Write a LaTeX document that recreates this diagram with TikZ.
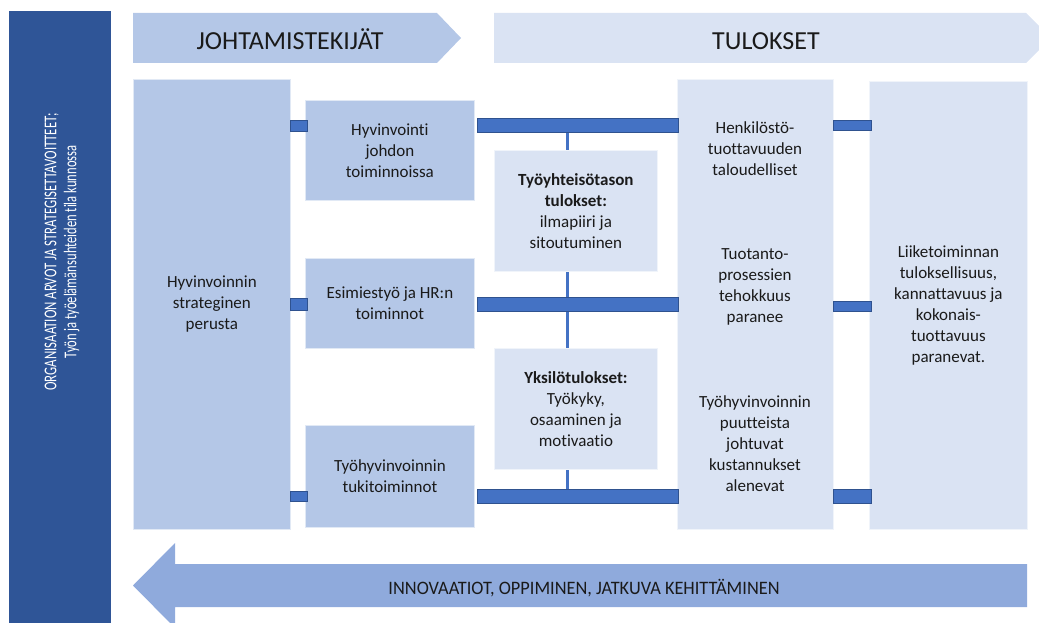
\documentclass[tikz,border=0pt]{standalone}
\usepackage{fontspec}
\setmainfont{Carlito}[Ligatures=NoCommon]
\usetikzlibrary{calc}
\definecolor{navy}{HTML}{2F5597}
\definecolor{lblue}{HTML}{B4C7E7}
\definecolor{pblue}{HTML}{DAE3F3}
\definecolor{mblue}{HTML}{8FAADC}
\definecolor{barfill}{HTML}{4472C4}
\definecolor{barline}{HTML}{2F528F}
\definecolor{ink}{HTML}{1A1A1A}

\begin{document}
\begin{tikzpicture}[x=1pt,y=-1pt,
  txt/.style={font=\fontsize{17}{21}\selectfont, align=center, inner sep=0pt, text=ink},
  factor/.style={fill=lblue, draw=white!60!lblue, line width=0.8pt, anchor=north west, inner sep=0pt, txt},
  result/.style={fill=pblue, draw=white!60!pblue, line width=0.8pt, anchor=north west, inner sep=0pt, txt},
  bar/.style={fill=barfill, draw=barline, line width=0.9pt},
  vline/.style={draw=barfill, line width=3pt},
  head/.style={font=\fontsize{26}{30}\selectfont, text=ink, inner sep=0pt, anchor=base}]
\useasboundingbox (0,0) rectangle (1039,623);
\clip (0,0) rectangle (1039,623);

% side banner
\fill[navy] (9,11) rectangle (111,640);
\node[rotate=90, align=center, text=white, inner sep=0pt,
  font=\fontsize{18}{20}\selectfont] (values) at (62,252)
  {\resizebox{277pt}{\height}{ORGANISAATION ARVOT JA STRATEGISETTAVOITTEET;}\\
   \resizebox{213pt}{\height}{Työn ja työelämänsuhteiden tila kunnossa}};

% header arrows
\fill[lblue] (133,13) -- (437,13) -- (461,38) -- (437,63) -- (133,63) -- cycle;
\node[head] (hleft) at (290,50) {JOHTAMISTEKIJÄT};
\fill[pblue] (494,13) -- (1026,13) -- (1051,38) -- (1026,63) -- (494,63) -- cycle;
\node[head] (hright) at (766,50) {TULOKSET};

% row levels of the connectors
\coordinate (r1) at (0,125.5);
\coordinate (r2) at (0,304);
\coordinate (r3) at (0,496);
\coordinate (vx) at (567,0);

% vertical link behind the middle boxes
\draw[vline] (vx |- r1) -- (vx |- r3);

% management factors
\node[factor, minimum width=157pt, minimum height=450pt] (base) at (133,79)
  {Hyvinvoinnin\\strateginen\\perusta};
\node[factor, minimum width=169pt, minimum height=100pt] (hj) at (305,100)
  {Hyvinvointi\\johdon\\toiminnoissa};
\node[factor, minimum width=169pt, minimum height=90pt] (hr) at (305,258)
  {Esimiestyö ja HR:n\\toiminnot};
\node[factor, minimum width=169pt, minimum height=102pt] (tuki) at (305,425)
  {Työhyvinvoinnin\\tukitoiminnot};

% intermediate results
\node[result, minimum width=163pt, minimum height=121pt] (yht) at (494,150)
  {\textbf{Työyhteisötason}\\\textbf{tulokset:}\\ilmapiiri ja\\sitoutuminen};
\node[result, minimum width=163pt, minimum height=121pt] (yks) at (494,348)
  {\textbf{Yksilötulokset:}\\Työkyky,\\osaaminen ja\\motivaatio};

% results column
\node[result, minimum width=156pt, minimum height=450pt] (res) at (677,79) {};
\node[txt] (res1) at (755,149) {Henkilöstö-\\tuottavuuden\\taloudelliset};
\node[txt] (res2) at (755,287) {Tuotanto-\\prosessien\\tehokkuus\\paranee};
\node[txt] (res3) at (755,444) {Työhyvinvoinnin\\puutteista\\johtuvat\\kustannukset\\alenevat};

% business outcome
\node[result, minimum width=158pt, minimum height=448pt] (fin) at (869,81)
  {Liiketoiminnan\\tuloksellisuus,\\kannattavuus ja\\kokonais-\\tuottavuus\\paranevat.};

% connectors: strategy -> factors
\draw[bar] ($(base.east |- r1)+(0,-5.5)$) rectangle ($(hj.west |- r1)+(2,5.5)$);
\draw[bar] ($(base.east |- r2)+(0,-6)$) rectangle ($(hr.west |- r2)+(2,6)$);
\draw[bar] ($(base.east |- r3)+(0,-5)$) rectangle ($(tuki.west |- r3)+(2,5)$);

% connectors: factors -> results
\draw[bar] ($(hj.east |- r1)+(2.5,-7)$) rectangle ($(res.west |- r1)+(1,7)$);
\draw[bar] ($(hr.east |- r2)+(2.5,-7)$) rectangle ($(res.west |- r2)+(1,7)$);
\draw[bar] ($(tuki.east |- r3)+(2.5,-7)$) rectangle ($(res.west |- r3)+(1,7)$);

% connectors: results -> business outcome
\draw[bar] ($(res.east |- r1)+(0,-5)$) rectangle ($(fin.west |- r1)+(2,5)$);
\draw[bar] ($(res.east |- r2)+(0,-3)$) rectangle ($(fin.west |- r2)+(2,7)$);
\draw[bar] ($(res.east |- r3)+(0,-7)$) rectangle ($(fin.west |- r3)+(2,7)$);

% feedback arrow
\fill[mblue] (1027,564) -- (175,564) -- (175,543) -- (133,585.5) -- (175,628)
  -- (175,607) -- (1027,607) -- cycle;
\node[txt, font=\fontsize{19}{21}\selectfont] (innov) at (584,588)
  {\resizebox{391pt}{\height}{INNOVAATIOT, OPPIMINEN, JATKUVA KEHITTÄMINEN}};
\end{tikzpicture}
\end{document}
